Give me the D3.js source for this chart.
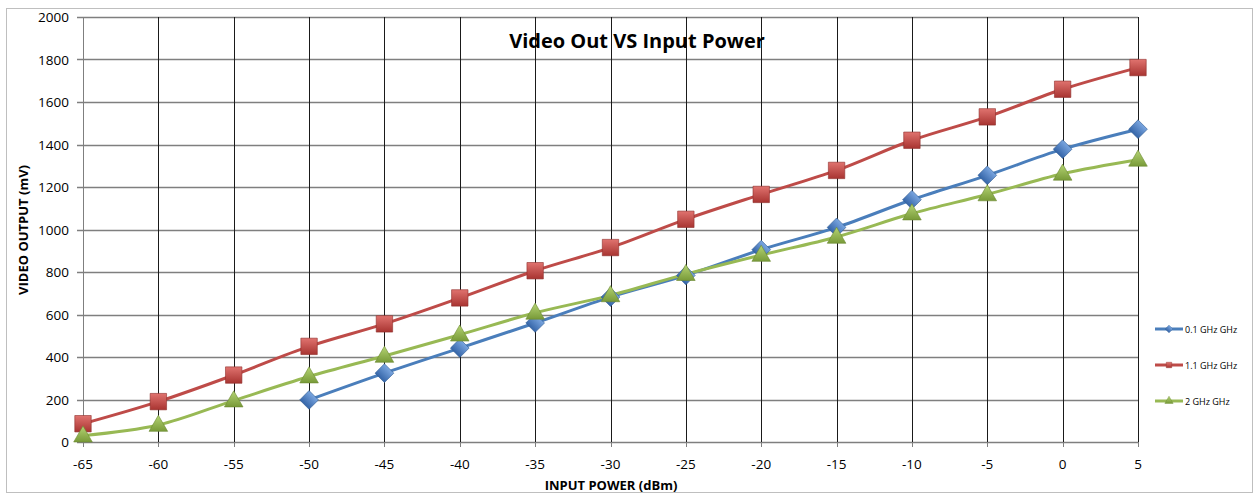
<!DOCTYPE html>
<html>
<head>
<meta charset="utf-8">
<script src="https://cdn.jsdelivr.net/npm/d3@7"></script>
<style>
  body { margin: 0; background: #fff; }
  text { font-family: "Open Sans", sans-serif; }
</style>
</head>
<body>
<script>
// data
var xTicks = [-65, -60, -55, -50, -45, -40, -35, -30, -25, -20, -15, -10, -5, 0, 5];
var yTicks = [0, 200, 400, 600, 800, 1000, 1200, 1400, 1600, 1800, 2000];

var powerBlue = [-50, -45, -40, -35, -30, -25, -20, -15, -10, -5, 0, 5];
var videoBlue = [198, 324, 442, 560, 682, 784, 905, 1010, 1140, 1255, 1378, 1472];

var powerRed = [-65, -60, -55, -50, -45, -40, -35, -30, -25, -20, -15, -10, -5, 0, 5];
var videoRed = [86, 190, 315, 450, 556, 678, 806, 915, 1048, 1165, 1278, 1420, 1530, 1660, 1762];

var powerGreen = [-65, -60, -55, -50, -45, -40, -35, -30, -25, -20, -15, -10, -5, 0, 5];
var videoGreen = [30, 80, 195, 308, 405, 505, 608, 690, 790, 880, 965, 1075, 1165, 1262, 1328];

var seriesNames = ["0.1 GHz GHz", "1.1 GHz GHz", "2 GHz GHz"];

var w = 1256, h = 494;
var padL = 83, padR = 1138, padT = 17, padB = 442;

var svg = d3.select("body").append("svg")
    .attr("width", w)
    .attr("height", h);

// chart border
svg.append("rect")
    .attr("x", 6.5).attr("y", 8.5)
    .attr("width", 1246).attr("height", 484)
    .attr("fill", "none")
    .attr("stroke", "#bfbfbf");

var defs = svg.append("defs");
function grad(id, light, dark) {
    var g = defs.append("linearGradient").attr("id", id)
        .attr("x1", 0).attr("y1", 0).attr("x2", 0).attr("y2", 1);
    g.append("stop").attr("offset", "0%").attr("stop-color", light);
    g.append("stop").attr("offset", "100%").attr("stop-color", dark);
}
grad("gBlue", "#7aa6e0", "#3565a8");
grad("gRed", "#e0736f", "#a83431");
grad("gGreen", "#b5d474", "#789a38");

var xScale = d3.scaleLinear().domain([-65, 5]).range([padL, padR]);
var yScale = d3.scaleLinear().domain([0, 2000]).range([padB, padT]);

// horizontal grid
svg.append("g")
    .selectAll("line")
    .data(yTicks)
    .enter()
    .append("line")
    .attr("x1", padL - 6).attr("x2", padR)
    .attr("y1", function (d) { return Math.round(yScale(d)) + 0.5; })
    .attr("y2", function (d) { return Math.round(yScale(d)) + 0.5; })
    .attr("stroke", "#7f7f7f")
    .attr("stroke-width", 1.3);

// vertical grid
svg.append("g")
    .selectAll("line")
    .data(xTicks)
    .enter()
    .append("line")
    .attr("x1", function (d) { return Math.round(xScale(d)) + 0.5; })
    .attr("x2", function (d) { return Math.round(xScale(d)) + 0.5; })
    .attr("y1", padT)
    .attr("y2", padB)
    .attr("stroke", function (d) { return d == -65 ? "#7f7f7f" : "#1a1a1a"; })
    .attr("stroke-width", 1);

// x tick marks
svg.append("g")
    .selectAll("line")
    .data(xTicks)
    .enter()
    .append("line")
    .attr("x1", function (d) { return Math.round(xScale(d)) + 0.5; })
    .attr("x2", function (d) { return Math.round(xScale(d)) + 0.5; })
    .attr("y1", padB)
    .attr("y2", padB + 5)
    .attr("stroke", "#7f7f7f");

// tick labels
svg.append("g")
    .selectAll("text")
    .data(yTicks)
    .enter()
    .append("text")
    .attr("x", 69)
    .attr("y", function (d) { return yScale(d) + 5; })
    .attr("text-anchor", "end")
    .attr("font-size", 13.5)
    .text(function (d) { return d; });

svg.append("g")
    .selectAll("text")
    .data(xTicks)
    .enter()
    .append("text")
    .attr("x", function (d) { return xScale(d); })
    .attr("y", 469)
    .attr("text-anchor", "middle")
    .attr("font-size", 13.5)
    .text(function (d) { return d; });

// axis titles
svg.append("text")
    .attr("transform", "translate(28,230) rotate(-90)")
    .attr("text-anchor", "middle")
    .attr("font-size", 13)
    .attr("font-weight", "bold")
    .text("VIDEO OUTPUT (mV)");

svg.append("text")
    .attr("x", 611).attr("y", 490)
    .attr("text-anchor", "middle")
    .attr("font-size", 13)
    .attr("font-weight", "bold")
    .text("INPUT POWER (dBm)");

svg.append("text")
    .attr("x", 637).attr("y", 48)
    .attr("text-anchor", "middle")
    .attr("font-size", 20)
    .attr("font-weight", "bold")
    .text("Video Out VS Input Power");

var line = d3.line()
    .x(function (d) { return xScale(d[0]); })
    .y(function (d) { return yScale(d[1]); })
    .curve(d3.curveCatmullRom.alpha(0.5));

// diamond = square turned 45 degrees
var series = [
    { name: seriesNames[0], xs: powerBlue, ys: videoBlue, color: "#4a7ebb", fill: "url(#gBlue)", edge: "#2f5c94", shape: d3.symbolSquare, size: 175, rot: 45, dy: 0 },
    { name: seriesNames[1], xs: powerRed, ys: videoRed, color: "#be4b48", fill: "url(#gRed)", edge: "#8e2f2c", shape: d3.symbolSquare, size: 270, rot: 0, dy: 0 },
    { name: seriesNames[2], xs: powerGreen, ys: videoGreen, color: "#98b954", fill: "url(#gGreen)", edge: "#6b8a30", shape: d3.symbolTriangle, size: 150, rot: 0, dy: 1 }
];

series.forEach(function (s) {
    var pts = s.xs.map(function (x, i) { return [x, s.ys[i]]; });
    svg.append("path")
        .datum(pts)
        .attr("fill", "none")
        .attr("stroke", s.color)
        .attr("stroke-width", 3)
        .attr("d", line);
});

series.forEach(function (s) {
    var pts = s.xs.map(function (x, i) { return [x, s.ys[i]]; });
    svg.append("g")
        .selectAll("path")
        .data(pts)
        .enter()
        .append("path")
        .attr("transform", function (d) {
            return "translate(" + xScale(d[0]) + "," + (yScale(d[1]) + s.dy) + ") rotate(" + s.rot + ")";
        })
        .attr("d", d3.symbol().type(s.shape).size(s.size))
        .attr("fill", s.fill)
        .attr("stroke", s.edge)
        .attr("stroke-width", 0.6);
});

// legend
var legY = [329, 365, 401];
series.forEach(function (s, i) {
    var g = svg.append("g").attr("transform", "translate(1155," + legY[i] + ")");
    g.append("line")
        .attr("x1", 0).attr("x2", 28)
        .attr("stroke", s.color)
        .attr("stroke-width", 3);
    g.append("path")
        .attr("transform", "translate(14,0) rotate(" + s.rot + ")")
        .attr("d", d3.symbol().type(s.shape).size(30))
        .attr("fill", s.fill)
        .attr("stroke", s.edge)
        .attr("stroke-width", 0.4);
    g.append("text")
        .attr("x", 30).attr("y", 3.5)
        .attr("font-size", 9)
        .text(s.name);
});
</script>
</body>
</html>
